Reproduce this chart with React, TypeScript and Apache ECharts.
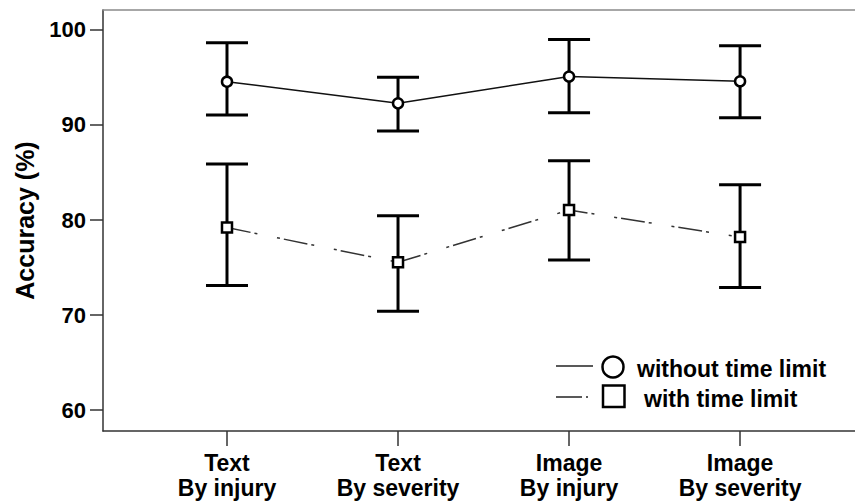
import React, { useEffect, useRef } from "react";
import * as echarts from "echarts";

const categories = ["Text\nBy injury", "Text\nBy severity", "Image\nBy injury", "Image\nBy severity"];
const seriesNames = ["without time limit", "with time limit"];
const meanNoLimit = [94.56, 92.28, 95.1, 94.6];
const lowNoLimit = [91.05, 89.37, 91.3, 90.77];
const highNoLimit = [98.65, 95.02, 99.0, 98.35];
const meanLimit = [79.2, 75.55, 81.05, 78.2];
const lowLimit = [73.1, 70.4, 75.8, 72.9];
const highLimit = [85.9, 80.45, 86.25, 83.7];
const yTicks = [60, 70, 80, 90, 100];

const FONT = "'Liberation Sans', Arial, sans-serif";

export default function App() {
  const ref = useRef<HTMLDivElement>(null);
  useEffect(() => {
    document.body.style.margin = "0";
    const chart = echarts.init(ref.current!, null, { renderer: "svg" });
    const idx = categories.map((_, i) => i);
    const errData = [
      ...idx.map((i) => [i, lowNoLimit[i], highNoLimit[i]]),
      ...idx.map((i) => [i, lowLimit[i], highLimit[i]]),
    ];
    chart.setOption({
      animation: false,
      grid: { left: 103, right: 0, top: 10, bottom: 73 },
      xAxis: [
        {
          type: "value",
          min: -0.725,
          max: 3.672,
          splitLine: { show: false },
          axisLine: { show: true, onZero: false, lineStyle: { color: "#333", width: 1.5 } },
          axisTick: { show: true, customValues: idx, length: 15, lineStyle: { color: "#333", width: 1.5 } },
          axisLabel: {
            customValues: idx,
            formatter: (v: number) => categories[Math.round(v)] ?? "",
            margin: 19,
            color: "#000",
            fontFamily: FONT,
            fontWeight: "bold",
            fontSize: 23,
            lineHeight: 25,
          },
        },
        {
          type: "value",
          position: "top",
          min: -0.725,
          max: 3.672,
          splitLine: { show: false },
          axisLine: { show: true, onZero: false, lineStyle: { color: "#8a8a8a", width: 1.5 } },
          axisTick: { show: false },
          axisLabel: { show: false },
        },
      ],
      yAxis: {
        type: "value",
        min: 57.79,
        max: 102.105,
        name: "Accuracy (%)",
        nameLocation: "middle",
        nameGap: 66,
        nameTextStyle: { color: "#000", fontFamily: FONT, fontWeight: "bold", fontSize: 25 },
        splitLine: { show: false },
        axisLine: { show: true, onZero: false, lineStyle: { color: "#333", width: 1.5 } },
        axisTick: { show: true, customValues: yTicks, length: 13, lineStyle: { color: "#333", width: 1.5 } },
        axisLabel: {
          customValues: yTicks,
          margin: 17,
          color: "#000",
          fontFamily: FONT,
          fontWeight: "bold",
          fontSize: 22,
        },
      },
      series: [
        {
          type: "custom",
          z: 1,
          data: errData,
          renderItem: (params: any, api: any) => {
            const x = api.value(0);
            const lo = api.coord([x, api.value(1)]);
            const hi = api.coord([x, api.value(2)]);
            const hw = 21;
            const style = { stroke: "#000", lineWidth: 3 };
            return {
              type: "group",
              children: [
                { type: "line", shape: { x1: lo[0], y1: lo[1], x2: hi[0], y2: hi[1] }, style },
                { type: "line", shape: { x1: lo[0] - hw, y1: lo[1], x2: lo[0] + hw, y2: lo[1] }, style },
                { type: "line", shape: { x1: hi[0] - hw, y1: hi[1], x2: hi[0] + hw, y2: hi[1] }, style },
              ],
            };
          },
        },
        {
          name: seriesNames[0],
          type: "line",
          z: 3,
          data: idx.map((i) => [i, meanNoLimit[i]]),
          symbol: "circle",
          symbolSize: 10,
          itemStyle: { color: "#fff", borderColor: "#000", borderWidth: 2.5 },
          lineStyle: { color: "#111", width: 1.5 },
        },
        {
          name: seriesNames[1],
          type: "line",
          z: 3,
          data: idx.map((i) => [i, meanLimit[i]]),
          symbol: "rect",
          symbolSize: 10,
          itemStyle: { color: "#fff", borderColor: "#000", borderWidth: 2.5 },
          lineStyle: { color: "#333", width: 1.5, type: [24, 4, 3, 20, 3, 4] },
        },
      ],
      graphic: [
        { type: "line", shape: { x1: 556, y1: 366, x2: 593, y2: 366 }, style: { stroke: "#222", lineWidth: 1.5 } },
        { type: "circle", shape: { cx: 613, cy: 367, r: 10.5 }, style: { fill: "#fff", stroke: "#000", lineWidth: 2.5 } },
        { type: "text", x: 637, y: 369, style: { text: seriesNames[0], fill: "#000", font: `bold 23px ${FONT}`, verticalAlign: "middle" } },
        { type: "line", shape: { x1: 556, y1: 397, x2: 582, y2: 397 }, style: { stroke: "#222", lineWidth: 1.5 } },
        { type: "line", shape: { x1: 586, y1: 397, x2: 588, y2: 397 }, style: { stroke: "#222", lineWidth: 1.5 } },
        { type: "rect", shape: { x: 603, y: 385.5, width: 21.5, height: 21.5 }, style: { fill: "#fff", stroke: "#000", lineWidth: 2.5 } },
        { type: "text", x: 644, y: 399, style: { text: seriesNames[1], fill: "#000", font: `bold 23px ${FONT}`, verticalAlign: "middle" } },
      ],
    });
    return () => chart.dispose();
  }, []);
  return <div ref={ref} style={{ width: 855, height: 504 }} />;
}
